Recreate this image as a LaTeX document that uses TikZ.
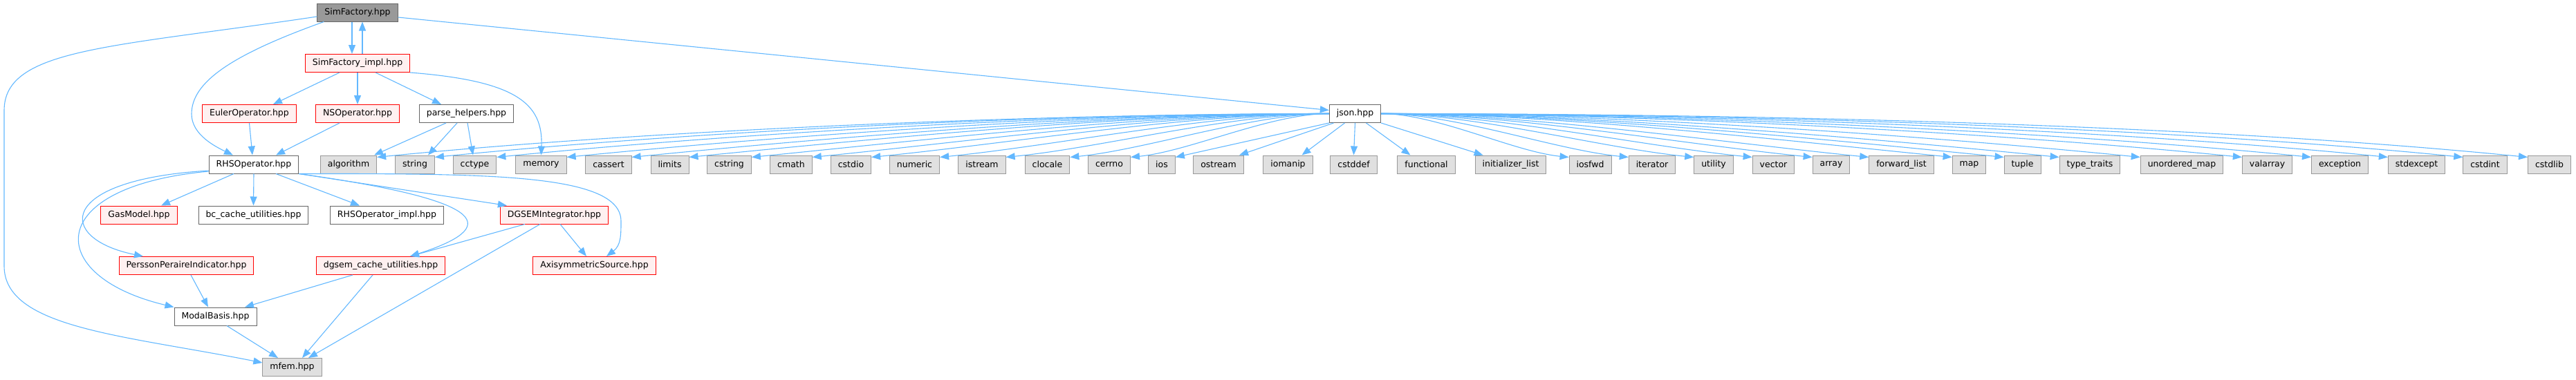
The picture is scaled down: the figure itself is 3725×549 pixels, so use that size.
\documentclass[tikz,border=0pt]{standalone}
\usepackage{fontspec}
\setmainfont{DejaVu Sans}
\usetikzlibrary{arrows.meta}

\definecolor{edgeblue}{HTML}{63B8FF}
\definecolor{stdfill}{HTML}{E0E0E0}
\definecolor{stdline}{HTML}{999999}
\definecolor{fileline}{HTML}{666666}
\definecolor{redfill}{HTML}{FFF0F0}
\definecolor{rootfill}{HTML}{999999}

\tikzset{
  hdr/.style={draw, line width=1pt, inner xsep=10.5pt, inner ysep=0pt,
    minimum height=26pt, font=\fontsize{12.5}{14}\selectfont},
  stdhdr/.style={hdr, draw=stdline, fill=stdfill},
  filehdr/.style={hdr, draw=fileline, fill=white},
  redhdr/.style={hdr, draw=red, fill=redfill},
  roothdr/.style={hdr, draw=fileline, fill=rootfill},
  dep/.style={draw=edgeblue, line width=1.1pt, -{Triangle[length=13pt,width=10pt]}},
}

\begin{document}
\begin{tikzpicture}[x=1pt, y=-1pt]
  \useasboundingbox (0,0) rectangle (3725,549);

  % project headers
  \node[roothdr] (simfac) at (517,18) {SimFactory.hpp};
  \node[redhdr] (simimpl) at (517,91.5) {SimFactory\_impl.hpp};
  \node[redhdr] (euler) at (360.5,164.5) {EulerOperator.hpp};
  \node[redhdr] (nsop) at (517,164.5) {NSOperator.hpp};
  \node[filehdr] (parse) at (674.5,164.5) {parse\_helpers.hpp};
  \node[filehdr] (json) at (1959.5,164.5) {json.hpp};
  \node[filehdr] (rhs) at (367,238) {RHSOperator.hpp};
  \node[redhdr] (gas) at (201,311) {GasModel.hpp};
  \node[filehdr] (bccache) at (366.5,311) {bc\_cache\_utilities.hpp};
  \node[filehdr] (rhsimpl) at (559.5,311) {RHSOperator\_impl.hpp};
  \node[redhdr] (dgsem) at (801.5,311) {DGSEMIntegrator.hpp};
  \node[redhdr] (persson) at (269.5,384.5) {PerssonPeraireIndicator.hpp};
  \node[redhdr] (dgcache) at (550.5,384.5) {dgsem\_cache\_utilities.hpp};
  \node[redhdr] (axisym) at (859.5,384.5) {AxisymmetricSource.hpp};
  \node[filehdr] (modal) at (311.5,458) {ModalBasis.hpp};
  \node[stdhdr] (mfem) at (422.5,531.5) {mfem.hpp};

  % system headers
  \foreach \x/\n/\lbl in {504/algorithm/algorithm, 600/string/string,
      686.5/cctype/cctype, 782.5/memory/memory, 880/cassert/cassert,
      968.5/limits/limits, 1054.5/cstring/cstring, 1144/cmath/cmath,
      1230.5/cstdio/cstdio, 1322.5/numeric/numeric, 1420/istream/istream,
      1514.5/clocale/clocale, 1604/cerrno/cerrno, 1680/ios/ios,
      1762/ostream/ostream, 1862.5/iomanip/iomanip, 1957.5/cstddef/cstddef,
      2062.5/functional/functional, 2184.5/initlist/initializer\_list,
      2299.5/iosfwd/iosfwd, 2389/iterator/iterator, 2478/utility/utility,
      2564.5/vector/vector, 2648/array/array, 2749.5/fwdlist/forward\_list,
      2847.5/map/map, 2924.5/tuple/tuple, 3022/typetraits/type\_traits,
      3155/umap/unordered\_map, 3278.5/valarray/valarray,
      3383.5/exception/exception, 3494.5/stdexcept/stdexcept,
      3593.5/cstdint/cstdint, 3686.5/cstdlib/cstdlib}
  {
    \node[stdhdr] (\n) at (\x,238) {\lbl};
  }

  % SimFactory.hpp
  \draw[dep] ([xshift=-8pt]simfac.south) -- ([xshift=-8pt]simimpl.north);
  \draw[dep] ([xshift=7pt]simimpl.north) -- ([xshift=7pt]simfac.south);
  \draw[dep] ([yshift=-7pt]simfac.east) -- ([yshift=5pt]json.west);
  \draw[dep] ([yshift=-6pt]simfac.west) .. controls +(-300,45) and +(0,-90) .. (6,160)
    -- (6,385) .. controls +(0,90) and +(-200,-40) .. ([yshift=6.5pt]mfem.west);
  \draw[dep] ([xshift=10pt]simfac.south west) .. controls +(-137,49) and +(0,-45) .. (277,165)
    .. controls +(0,30) and +(-25,-12) .. ([xshift=-30pt]rhs.north);

  % SimFactory_impl.hpp
  \draw[dep] ([xshift=-26pt]simimpl.south) -- ([xshift=34.5pt]euler.north);
  \draw[dep] (simimpl.south) -- (nsop.north);
  \draw[dep] ([xshift=26pt]simimpl.south) -- ([xshift=-36.5pt]parse.north);
  \draw[dep] (simimpl.south east) .. controls +(153,12) and +(3,-75) .. (memory.north);

  \draw[dep] (euler.south) -- ([xshift=-2pt]rhs.north);
  \draw[dep] ([xshift=-26pt]nsop.south) -- ([xshift=32pt]rhs.north);
  \draw[dep] ([xshift=-29.5pt]parse.south) -- ([xshift=37pt]algorithm.north);
  \draw[dep] ([xshift=-13.5pt]parse.south) -- ([xshift=19pt]string.north);
  \draw[dep] ([xshift=1.5pt]parse.south) -- ([xshift=-2.5pt]cctype.north);

  % RHSOperator.hpp
  \draw[dep] ([xshift=-29pt]rhs.south) -- ([xshift=32pt]gas.north);
  \draw[dep] (rhs.south) -- (bccache.north);
  \draw[dep] ([xshift=32pt]rhs.south) -- ([xshift=-39.5pt]rhsimpl.north);
  \draw[dep] (rhs.south east) -- ([xshift=10pt]dgsem.north west);
  \draw[dep] (rhs.south east) .. controls +(286,40) and +(127,-41) .. ([xshift=42.5pt]dgcache.north);
  \draw[dep] (rhs.south east) .. controls +(266,0) and +(0,-70) .. (898,320)
    .. controls +(0,20) and +(21,-16) .. ([xshift=17.5pt]axisym.north);
  \draw[dep] ([yshift=-9pt]rhs.west) .. controls +(-220,13) and +(-127,-26) .. ([xshift=-62.5pt]persson.north);
  \draw[dep] ([yshift=-10pt]rhs.west) .. controls +(-240,22) and +(-189,-45) .. (modal.north west);

  % DGSEMIntegrator.hpp and below
  \draw[dep] ([xshift=-42.5pt]dgsem.south) -- ([xshift=42.5pt]dgcache.north);
  \draw[dep] ([xshift=-20.5pt]dgsem.south) -- ([xshift=23.5pt]mfem.north);
  \draw[dep] ([xshift=8.5pt]dgsem.south) -- ([xshift=-11.5pt]axisym.north);
  \draw[dep] ([xshift=6.5pt]persson.south) -- ([xshift=-10.5pt]modal.north);
  \draw[dep] ([xshift=-40.5pt]dgcache.south) -- ([xshift=42.5pt]modal.north);
  \draw[dep] ([xshift=-11.5pt]dgcache.south) -- ([xshift=14.5pt]mfem.north);
  \draw[dep] ([xshift=16.5pt]modal.south) -- ([xshift=-20.5pt]mfem.north);

  % json.hpp
  \foreach \t/\c in {algorithm/400, string/390, cctype/360, memory/330,
      cassert/300, limits/280, cstring/250, cmath/225, cstdio/200,
      numeric/170, istream/140, clocale/110, cerrno/85}
  {
    \draw[dep] (json.west) .. controls +(-\c,0) and +(\c,{-0.1*\c}) .. ([yshift=-3pt]\t.north east);
  }
  \draw[dep] (json.south west) -- ([yshift=-3pt]ios.north east);
  \draw[dep] ([xshift=-31pt]json.south) -- ([xshift=30pt]ostream.north);
  \draw[dep] ([xshift=-15pt]json.south) -- ([xshift=20pt]iomanip.north);
  \draw[dep] (json.south) -- (cstddef.north);
  \draw[dep] ([xshift=16pt]json.south) -- ([xshift=-23pt]functional.north);
  \draw[dep] (json.south east) -- ([xshift=12pt]initlist.north west);
  \foreach \t/\c in {iosfwd/80, iterator/107, utility/135, vector/160,
      array/187, fwdlist/210, map/247, tuple/270, typetraits/293, umap/328,
      valarray/372, exception/400, stdexcept/436, cstdint/469, cstdlib/497}
  {
    \draw[dep] (json.east) .. controls +(\c,0) and +(-\c,{-0.1*\c}) .. ([yshift=-3pt]\t.north west);
  }
\end{tikzpicture}
\end{document}
